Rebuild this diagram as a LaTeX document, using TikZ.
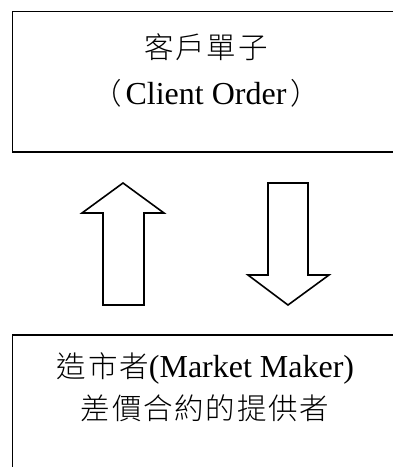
\documentclass[tikz,border=0pt]{standalone}
\usepackage{fontspec}
\setmainfont{Liberation Serif}
\newfontfamily\cjkfont[LetterSpace=6]{Noto Sans CJK TC Light}
\newcommand\zhtext[1]{{\cjkfont\fontsize{29.5}{34}\selectfont #1}}
\tikzset{
  frame/.style={draw=black, line width=1.8pt},
  blockarrow/.style={draw=black, line width=1.6pt, line join=miter, fill=white},
  label/.style={inner sep=0pt, font=\fontsize{32}{36}\selectfont}
}
\begin{document}
\begin{tikzpicture}[x=1pt, y=-1pt]
\useasboundingbox (0,0) rectangle (393,467);
\clip (0,0) rectangle (393,467);
\fill[white] (0,0) rectangle (393,467);
% top box
\draw[frame] (12.5,11.5) rectangle (410,152);
\node[label] (t1) at (206,47.5) {\zhtext{客戶單子}};
\node[label, anchor=base] (t2) at (206,104) {\zhtext{（}\hspace{4pt}Client Order\hspace{4pt}\zhtext{）}};
% bottom box
\draw[frame] (12.5,335) rectangle (410,490);
\node[label, anchor=base] (b1) at (205.5,377) {\zhtext{造市者}(Market Maker)};
\node[label] (b2) at (205,408.5) {\zhtext{差價合約的提供者}};
% up arrow
\draw[blockarrow] (123,183) -- (82,213) -- (103,213) -- (103,305) -- (144,305) -- (144,213) -- (164,213) -- cycle;
% down arrow
\draw[blockarrow] (268,183) -- (308,183) -- (308,275) -- (329,275) -- (288,305) -- (248,275) -- (268,275) -- cycle;
\end{tikzpicture}
\end{document}
